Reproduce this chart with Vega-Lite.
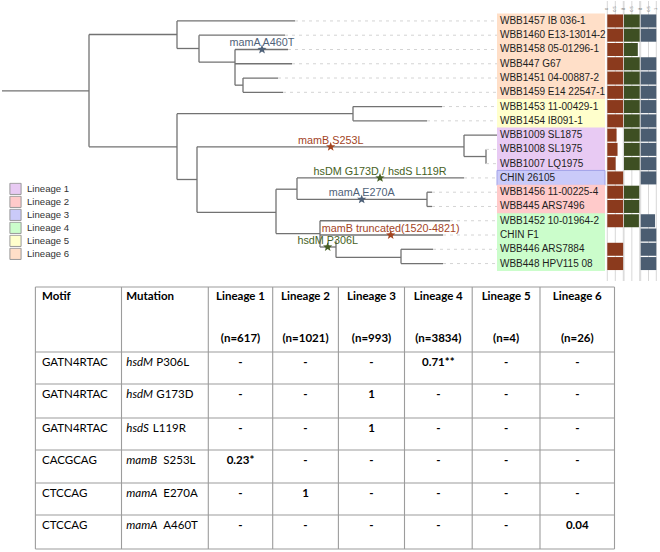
{
  "$schema": "https://vega.github.io/schema/vega-lite/v6.json",
  "padding": 0,
  "spacing": 0,
  "background": "white",
  "config": {"view": {"stroke": null}, "concat": {"spacing": 0}},
  "datasets": {
    "tips": [
      {"i": 1, "name": "WBB1457 IB 036-1", "lineage": "Lineage 6", "tipx": 295, "mamB": 1, "hsd": 1, "mamA": 1},
      {"i": 2, "name": "WBB1460 E13-13014-2", "lineage": "Lineage 6", "tipx": 285, "mamB": 1, "hsd": 1, "mamA": 1},
      {"i": 3, "name": "WBB1458 05-01296-1", "lineage": "Lineage 6", "tipx": 288, "mamB": 1, "hsd": 0.88, "mamA": 0},
      {"i": 4, "name": "WBB447 G67", "lineage": "Lineage 6", "tipx": 292, "mamB": 1, "hsd": 1, "mamA": 1},
      {"i": 5, "name": "WBB1451 04-00887-2", "lineage": "Lineage 6", "tipx": 278, "mamB": 1, "hsd": 1, "mamA": 1},
      {"i": 6, "name": "WBB1459 E14 22547-1", "lineage": "Lineage 6", "tipx": 283, "mamB": 1, "hsd": 1, "mamA": 1},
      {"i": 7, "name": "WBB1453 11-00429-1", "lineage": "Lineage 5", "tipx": 442, "mamB": 1, "hsd": 1, "mamA": 1},
      {"i": 8, "name": "WBB1454 IB091-1", "lineage": "Lineage 5", "tipx": 427, "mamB": 1, "hsd": 1, "mamA": 1},
      {"i": 9, "name": "WBB1009 SL1875", "lineage": "Lineage 1", "tipx": 497, "mamB": 0.58, "hsd": 1, "mamA": 1},
      {"i": 10, "name": "WBB1008 SL1975", "lineage": "Lineage 1", "tipx": 486, "mamB": 0.64, "hsd": 1, "mamA": 1},
      {"i": 11, "name": "WBB1007 LQ1975", "lineage": "Lineage 1", "tipx": 486, "mamB": 0.52, "hsd": 1, "mamA": 1},
      {"i": 12, "name": "CHIN 26105", "lineage": "Lineage 3", "tipx": 464, "mamB": 1, "hsd": 0, "mamA": 1},
      {"i": 13, "name": "WBB1456 11-00225-4", "lineage": "Lineage 2", "tipx": 432, "mamB": 1, "hsd": 0.97, "mamA": 0},
      {"i": 14, "name": "WBB445 ARS7496", "lineage": "Lineage 2", "tipx": 432, "mamB": 1, "hsd": 0.97, "mamA": 0},
      {"i": 15, "name": "WBB1452 10-01964-2", "lineage": "Lineage 4", "tipx": 450, "mamB": 1, "hsd": 0.95, "mamA": 0.92},
      {"i": 16, "name": "CHIN F1", "lineage": "Lineage 4", "tipx": 443, "mamB": 0, "hsd": 0, "mamA": 1},
      {"i": 17, "name": "WBB446 ARS7884", "lineage": "Lineage 4", "tipx": 433, "mamB": 1, "hsd": 0, "mamA": 1},
      {"i": 18, "name": "WBB448 HPV115 08", "lineage": "Lineage 4", "tipx": 443, "mamB": 1, "hsd": 0, "mamA": 1}
    ],
    "edges": [
      {"x1": 2, "x2": 89, "y1": 5.9, "y2": 5.9},
      {"x1": 89, "x2": 89, "y1": 1.95, "y2": 9.82},
      {"x1": 89, "x2": 177, "y1": 1.95, "y2": 1.95},
      {"x1": 177, "x2": 177, "y1": 1, "y2": 2.93},
      {"x1": 177, "x2": 295, "y1": 1, "y2": 1},
      {"x1": 177, "x2": 199, "y1": 2.93, "y2": 2.93},
      {"x1": 199, "x2": 199, "y1": 2, "y2": 3.89},
      {"x1": 199, "x2": 285, "y1": 2, "y2": 2},
      {"x1": 199, "x2": 235, "y1": 3.89, "y2": 3.89},
      {"x1": 235, "x2": 235, "y1": 3, "y2": 5.5},
      {"x1": 235, "x2": 288, "y1": 3, "y2": 3},
      {"x1": 235, "x2": 292, "y1": 4, "y2": 4},
      {"x1": 235, "x2": 243, "y1": 5.5, "y2": 5.5},
      {"x1": 243, "x2": 243, "y1": 5, "y2": 6},
      {"x1": 243, "x2": 278, "y1": 5, "y2": 5},
      {"x1": 243, "x2": 283, "y1": 6, "y2": 6},
      {"x1": 89, "x2": 177, "y1": 9.82, "y2": 9.82},
      {"x1": 177, "x2": 177, "y1": 7.5, "y2": 12.11},
      {"x1": 177, "x2": 353, "y1": 7.5, "y2": 7.5},
      {"x1": 353, "x2": 353, "y1": 7, "y2": 8},
      {"x1": 353, "x2": 442, "y1": 7, "y2": 7},
      {"x1": 353, "x2": 427, "y1": 8, "y2": 8},
      {"x1": 177, "x2": 197, "y1": 12.11, "y2": 12.11},
      {"x1": 197, "x2": 197, "y1": 9.82, "y2": 14.41},
      {"x1": 197, "x2": 464, "y1": 9.82, "y2": 9.82},
      {"x1": 464, "x2": 464, "y1": 9, "y2": 10.5},
      {"x1": 464, "x2": 497, "y1": 9, "y2": 9},
      {"x1": 464, "x2": 486, "y1": 10.5, "y2": 10.5},
      {"x1": 486, "x2": 486, "y1": 10, "y2": 11},
      {"x1": 197, "x2": 276, "y1": 14.41, "y2": 14.41},
      {"x1": 276, "x2": 276, "y1": 12.79, "y2": 15.9},
      {"x1": 276, "x2": 297, "y1": 12.79, "y2": 12.79},
      {"x1": 297, "x2": 297, "y1": 12, "y2": 13.5},
      {"x1": 297, "x2": 464, "y1": 12, "y2": 12},
      {"x1": 297, "x2": 427, "y1": 13.5, "y2": 13.5},
      {"x1": 427, "x2": 427, "y1": 13, "y2": 14},
      {"x1": 427, "x2": 432, "y1": 13, "y2": 13},
      {"x1": 427, "x2": 432, "y1": 14, "y2": 14},
      {"x1": 276, "x2": 320, "y1": 15.9, "y2": 15.9},
      {"x1": 320, "x2": 320, "y1": 15, "y2": 16.84},
      {"x1": 320, "x2": 450, "y1": 15, "y2": 15},
      {"x1": 320, "x2": 443, "y1": 16, "y2": 16},
      {"x1": 320, "x2": 336, "y1": 16.84, "y2": 16.84},
      {"x1": 336, "x2": 336, "y1": 16.36, "y2": 17.57},
      {"x1": 336, "x2": 401, "y1": 17.57, "y2": 17.57},
      {"x1": 401, "x2": 401, "y1": 17, "y2": 18},
      {"x1": 401, "x2": 433, "y1": 17, "y2": 17},
      {"x1": 401, "x2": 443, "y1": 18, "y2": 18}
    ],
    "muts": [
      {"label": "mamA A460T", "gene": "mamA", "x": 262, "y": 3},
      {"label": "mamB S253L", "gene": "mamB", "x": 330.7, "y": 9.82},
      {"label": "hsDM G173D / hsdS L119R", "gene": "hsd", "x": 380, "y": 12},
      {"label": "mamA E270A", "gene": "mamA", "x": 361.7, "y": 13.5},
      {"label": "mamB truncated(1520-4821)", "gene": "mamB", "x": 390.7, "y": 16},
      {"label": "hsdM P306L", "gene": "hsd", "x": 327.7, "y": 16.84}
    ],
    "ticks": [{"v": 0, "t": "0"}, {"v": 0.5, "t": "0.5"}, {"v": 1, "t": "1"}],
    "rows": [
      {"r": 1, "motif": "GATN4RTAC", "gene": "hsdM", "change": "P306L"},
      {"r": 2, "motif": "GATN4RTAC", "gene": "hsdM", "change": "G173D"},
      {"r": 3, "motif": "GATN4RTAC", "gene": "hsdS", "change": "L119R"},
      {"r": 4, "motif": "CACGCAG", "gene": "mamB", "change": "S253L"},
      {"r": 5, "motif": "CTCCAG", "gene": "mamA", "change": "E270A"},
      {"r": 6, "motif": "CTCCAG", "gene": "mamA", "change": "A460T"}
    ],
    "hdr": [
      {"col": 1, "t1": "Lineage 1", "t2": "(n=617)"},
      {"col": 2, "t1": "Lineage 2", "t2": "(n=1021)"},
      {"col": 3, "t1": "Lineage 3", "t2": "(n=993)"},
      {"col": 4, "t1": "Lineage 4", "t2": "(n=3834)"},
      {"col": 5, "t1": "Lineage 5", "t2": "(n=4)"},
      {"col": 6, "t1": "Lineage 6", "t2": "(n=26)"}
    ],
    "cells": [
      {"r": 1, "col": 1, "v": "-"}, {"r": 1, "col": 2, "v": "-"}, {"r": 1, "col": 3, "v": "-"}, {"r": 1, "col": 4, "v": "0.71**"}, {"r": 1, "col": 5, "v": "-"}, {"r": 1, "col": 6, "v": "-"},
      {"r": 2, "col": 1, "v": "-"}, {"r": 2, "col": 2, "v": "-"}, {"r": 2, "col": 3, "v": "1"}, {"r": 2, "col": 4, "v": "-"}, {"r": 2, "col": 5, "v": "-"}, {"r": 2, "col": 6, "v": "-"},
      {"r": 3, "col": 1, "v": "-"}, {"r": 3, "col": 2, "v": "-"}, {"r": 3, "col": 3, "v": "1"}, {"r": 3, "col": 4, "v": "-"}, {"r": 3, "col": 5, "v": "-"}, {"r": 3, "col": 6, "v": "-"},
      {"r": 4, "col": 1, "v": "0.23*"}, {"r": 4, "col": 2, "v": "-"}, {"r": 4, "col": 3, "v": "-"}, {"r": 4, "col": 4, "v": "-"}, {"r": 4, "col": 5, "v": "-"}, {"r": 4, "col": 6, "v": "-"},
      {"r": 5, "col": 1, "v": "-"}, {"r": 5, "col": 2, "v": "1"}, {"r": 5, "col": 3, "v": "-"}, {"r": 5, "col": 4, "v": "-"}, {"r": 5, "col": 5, "v": "-"}, {"r": 5, "col": 6, "v": "-"},
      {"r": 6, "col": 1, "v": "-"}, {"r": 6, "col": 2, "v": "-"}, {"r": 6, "col": 3, "v": "-"}, {"r": 6, "col": 4, "v": "-"}, {"r": 6, "col": 5, "v": "-"}, {"r": 6, "col": 6, "v": "0.04"}
    ],
    "vlines": [{"e": 0}, {"e": 1}, {"e": 2}, {"e": 3}, {"e": 4}, {"e": 5}, {"e": 6}, {"e": 7}, {"e": 8}],
    "hlines": [{"h": 0}, {"h": 1}, {"h": 2}, {"h": 3}, {"h": 4}, {"h": 5}, {"h": 6}, {"h": 7}]
  },
  "vconcat": [
    {
      "width": 660,
      "height": 280,
      "layer": [
        {
          "layer": [
            {
              "data": {"name": "edges"},
              "mark": {"type": "rule", "color": "#727272", "strokeWidth": 1.3},
              "encoding": {
                "x": {"field": "x1", "type": "quantitative", "scale": {"domain": [0, 660], "nice": false, "zero": false}, "axis": null},
                "x2": {"field": "x2"},
                "y": {"field": "y1", "type": "quantitative", "scale": {"domain": [-0.047, 18.872], "reverse": true, "nice": false, "zero": false}, "axis": null},
                "y2": {"field": "y2"}
              }
            },
            {
              "data": {"name": "tips"},
              "mark": {"type": "rule", "color": "#d4d4d4", "strokeWidth": 1, "strokeDash": [3, 4]},
              "encoding": {
                "x": {"field": "tipx", "type": "quantitative", "scale": {"domain": [0, 660], "nice": false, "zero": false}, "axis": null},
                "x2": {"datum": 497},
                "y": {"field": "i", "type": "quantitative", "scale": {"domain": [-0.047, 18.872], "reverse": true, "nice": false, "zero": false}, "axis": null}
              }
            },
            {
              "data": {"name": "tips"},
              "mark": {"type": "bar", "orient": "horizontal", "height": 15, "strokeWidth": 1},
              "encoding": {
                "x": {"datum": 497, "type": "quantitative", "scale": {"domain": [0, 660], "nice": false, "zero": false}, "axis": null},
                "x2": {"datum": 605},
                "y": {"field": "i", "type": "quantitative", "scale": {"domain": [-0.047, 18.872], "reverse": true, "nice": false, "zero": false}, "axis": null},
                "fill": {
                  "field": "lineage", "type": "nominal",
                  "scale": {"domain": ["Lineage 1", "Lineage 2", "Lineage 3", "Lineage 4", "Lineage 5", "Lineage 6"], "range": ["#e8caf3", "#ffcaca", "#cacaf9", "#cbfdcb", "#ffffcc", "#ffdfc8"]},
                  "legend": {
                    "orient": "none", "legendX": 9, "legendY": 181.5, "direction": "vertical", "title": null,
                    "symbolType": "square", "symbolSize": 125, "symbolStrokeColor": "#9a9a9a", "symbolStrokeWidth": 1,
                    "labelFont": "Liberation Sans", "labelFontSize": 9.6, "labelColor": "#333333", "labelOffset": 5,
                    "clipHeight": 12.7, "rowPadding": 0, "padding": 0
                  }
                },
                "stroke": {"condition": {"test": "datum.lineage === 'Lineage 3'", "value": "#a3a3e8"}, "value": "transparent"}
              }
            },
            {
              "data": {"name": "tips"},
              "mark": {"type": "text", "align": "left", "baseline": "middle", "font": "Liberation Sans", "fontSize": 10, "color": "#1e1e1e"},
              "encoding": {
                "x": {"datum": 500, "type": "quantitative", "scale": {"domain": [0, 660], "nice": false, "zero": false}, "axis": null},
                "y": {"field": "i", "type": "quantitative", "scale": {"domain": [-0.047, 18.872], "reverse": true, "nice": false, "zero": false}, "axis": null},
                "text": {"field": "name"}
              }
            },
            {
              "data": {"name": "muts"},
              "mark": {"type": "text", "align": "center", "baseline": "middle", "dy": -6, "font": "Liberation Sans", "fontSize": 10.8},
              "encoding": {
                "x": {"field": "x", "type": "quantitative", "scale": {"domain": [0, 660], "nice": false, "zero": false}, "axis": null},
                "y": {"field": "y", "type": "quantitative", "scale": {"domain": [-0.047, 18.872], "reverse": true, "nice": false, "zero": false}, "axis": null},
                "text": {"field": "label"},
                "color": {"field": "gene", "type": "nominal", "scale": {"domain": ["mamA", "mamB", "hsd"], "range": ["#4f6279", "#a3441f", "#465f24"]}, "legend": null}
              }
            },
            {
              "data": {"name": "muts"},
              "mark": {"type": "point", "filled": true, "opacity": 1, "size": 95, "shape": "M0,-1L0.247,-0.34L0.951,-0.309L0.399,0.13L0.588,0.809L0,0.42L-0.588,0.809L-0.399,0.13L-0.951,-0.309L-0.247,-0.34Z"},
              "encoding": {
                "x": {"field": "x", "type": "quantitative", "scale": {"domain": [0, 660], "nice": false, "zero": false}, "axis": null},
                "y": {"field": "y", "type": "quantitative", "scale": {"domain": [-0.047, 18.872], "reverse": true, "nice": false, "zero": false}, "axis": null},
                "color": {"field": "gene", "type": "nominal", "scale": {"domain": ["mamA", "mamB", "hsd"], "range": ["#4f6279", "#a3441f", "#465f24"]}, "legend": null}
              }
            }
          ]
        },
        {
          "layer": [
            {
              "data": {"name": "ticks"},
              "mark": {"type": "rule", "color": "#d8d8d8", "strokeWidth": 1},
              "encoding": {"x": {"field": "v", "type": "quantitative", "scale": {"domain": [0, 1], "range": [607.3, 623.3], "nice": false, "zero": false}, "axis": null}}
            },
            {
              "data": {"name": "ticks"},
              "mark": {"type": "text", "angle": 270, "fontSize": 4, "color": "#666666", "align": "center", "baseline": "middle", "font": "Liberation Sans"},
              "encoding": {
                "x": {"field": "v", "type": "quantitative", "scale": {"domain": [0, 1], "range": [607.3, 623.3], "nice": false, "zero": false}, "axis": null},
                "y": {"datum": 0.16, "type": "quantitative", "scale": {"domain": [-0.047, 18.872], "reverse": true, "nice": false, "zero": false}, "axis": null},
                "text": {"field": "t"}
              }
            },
            {
              "data": {"name": "tips"},
              "mark": {"type": "bar", "orient": "horizontal", "size": 13, "color": "#8b3a1d"},
              "encoding": {
                "x": {"field": "mamB", "type": "quantitative", "scale": {"domain": [0, 1], "range": [607.3, 623.3], "nice": false, "zero": false}, "axis": null},
                "x2": {"datum": 0},
                "y": {"field": "i", "type": "quantitative", "scale": {"domain": [-0.047, 18.872], "reverse": true, "nice": false, "zero": false}, "axis": null}
              }
            }
          ]
        },
        {
          "layer": [
            {
              "data": {"name": "ticks"},
              "mark": {"type": "rule", "color": "#d8d8d8", "strokeWidth": 1},
              "encoding": {"x": {"field": "v", "type": "quantitative", "scale": {"domain": [0, 1], "range": [624, 639.7], "nice": false, "zero": false}, "axis": null}}
            },
            {
              "data": {"name": "ticks"},
              "mark": {"type": "text", "angle": 270, "fontSize": 4, "color": "#666666", "align": "center", "baseline": "middle", "font": "Liberation Sans"},
              "encoding": {
                "x": {"field": "v", "type": "quantitative", "scale": {"domain": [0, 1], "range": [624, 639.7], "nice": false, "zero": false}, "axis": null},
                "y": {"datum": 0.16, "type": "quantitative", "scale": {"domain": [-0.047, 18.872], "reverse": true, "nice": false, "zero": false}, "axis": null},
                "text": {"field": "t"}
              }
            },
            {
              "data": {"name": "tips"},
              "mark": {"type": "bar", "orient": "horizontal", "size": 13, "color": "#3e4f23"},
              "encoding": {
                "x": {"field": "hsd", "type": "quantitative", "scale": {"domain": [0, 1], "range": [624, 639.7], "nice": false, "zero": false}, "axis": null},
                "x2": {"datum": 0},
                "y": {"field": "i", "type": "quantitative", "scale": {"domain": [-0.047, 18.872], "reverse": true, "nice": false, "zero": false}, "axis": null}
              }
            }
          ]
        },
        {
          "layer": [
            {
              "data": {"name": "ticks"},
              "mark": {"type": "rule", "color": "#d8d8d8", "strokeWidth": 1},
              "encoding": {"x": {"field": "v", "type": "quantitative", "scale": {"domain": [0, 1], "range": [640.7, 656.3], "nice": false, "zero": false}, "axis": null}}
            },
            {
              "data": {"name": "ticks"},
              "mark": {"type": "text", "angle": 270, "fontSize": 4, "color": "#666666", "align": "center", "baseline": "middle", "font": "Liberation Sans"},
              "encoding": {
                "x": {"field": "v", "type": "quantitative", "scale": {"domain": [0, 1], "range": [640.7, 656.3], "nice": false, "zero": false}, "axis": null},
                "y": {"datum": 0.16, "type": "quantitative", "scale": {"domain": [-0.047, 18.872], "reverse": true, "nice": false, "zero": false}, "axis": null},
                "text": {"field": "t"}
              }
            },
            {
              "data": {"name": "tips"},
              "mark": {"type": "bar", "orient": "horizontal", "size": 13, "color": "#4b5d71"},
              "encoding": {
                "x": {"field": "mamA", "type": "quantitative", "scale": {"domain": [0, 1], "range": [640.7, 656.3], "nice": false, "zero": false}, "axis": null},
                "x2": {"datum": 0},
                "y": {"field": "i", "type": "quantitative", "scale": {"domain": [-0.047, 18.872], "reverse": true, "nice": false, "zero": false}, "axis": null}
              }
            }
          ]
        }
      ],
      "resolve": {"scale": {"x": "independent"}}
    },
    {
      "width": 660,
      "height": 272,
      "layer": [
        {
          "layer": [
            {
              "data": {"name": "vlines"},
              "mark": {"type": "rule", "color": "#9c9c9c", "strokeWidth": 1.1},
              "encoding": {
                "x": {"field": "e", "type": "quantitative", "scale": {"domain": [0, 1, 2, 3, 4, 5, 6, 7, 8], "range": [35.4, 121.5, 208.3, 272.7, 338.4, 404.5, 472.2, 540, 614.5], "nice": false, "zero": false}, "axis": null},
                "y": {"datum": 0, "type": "quantitative", "scale": {"domain": [0, 1, 2, 3, 4, 5, 6, 7], "range": [5, 70, 102, 136, 168, 201, 233, 267], "nice": false, "zero": false}, "axis": null},
                "y2": {"datum": 7}
              }
            },
            {
              "data": {"name": "hlines"},
              "mark": {"type": "rule", "color": "#9c9c9c", "strokeWidth": 1.1},
              "encoding": {
                "x": {"datum": 0, "type": "quantitative", "scale": {"domain": [0, 1, 2, 3, 4, 5, 6, 7, 8], "range": [35.4, 121.5, 208.3, 272.7, 338.4, 404.5, 472.2, 540, 614.5], "nice": false, "zero": false}, "axis": null},
                "x2": {"datum": 8},
                "y": {"field": "h", "type": "quantitative", "scale": {"domain": [0, 1, 2, 3, 4, 5, 6, 7], "range": [5, 70, 102, 136, 168, 201, 233, 267], "nice": false, "zero": false}, "axis": null}
              }
            }
          ]
        },
        {
          "layer": [
            {
              "data": {"values": [{"col": -1, "t": "Motif"}, {"col": 0, "t": "Mutation"}]},
              "mark": {"type": "text", "align": "left", "baseline": "middle", "dy": 10, "font": "Lato", "fontSize": 11.5, "fontWeight": "bold", "color": "#000000"},
              "encoding": {
                "x": {"field": "col", "type": "quantitative", "scale": {"domain": [-1, 0, 1, 2, 3, 4, 5, 6], "range": [42, 126.3, 240.5, 305.5, 371.5, 438.3, 506.1, 577.3], "nice": false, "zero": false}, "axis": null},
                "y": {"datum": 0, "type": "quantitative", "scale": {"domain": [0, 1, 2, 3, 4, 5, 6, 7], "range": [5, 70, 102, 136, 168, 201, 233, 267], "nice": false, "zero": false}, "axis": null},
                "text": {"field": "t"}
              }
            },
            {
              "data": {"name": "hdr"},
              "mark": {"type": "text", "align": "center", "baseline": "middle", "dy": 10, "font": "Lato", "fontSize": 11.5, "fontWeight": "bold", "color": "#000000"},
              "encoding": {
                "x": {"field": "col", "type": "quantitative", "scale": {"domain": [-1, 0, 1, 2, 3, 4, 5, 6], "range": [42, 126.3, 240.5, 305.5, 371.5, 438.3, 506.1, 577.3], "nice": false, "zero": false}, "axis": null},
                "y": {"datum": 0, "type": "quantitative", "scale": {"domain": [0, 1, 2, 3, 4, 5, 6, 7], "range": [5, 70, 102, 136, 168, 201, 233, 267], "nice": false, "zero": false}, "axis": null},
                "text": {"field": "t1"}
              }
            },
            {
              "data": {"name": "hdr"},
              "mark": {"type": "text", "align": "center", "baseline": "middle", "dy": 51.7, "font": "Lato", "fontSize": 11.5, "fontWeight": "bold", "color": "#000000"},
              "encoding": {
                "x": {"field": "col", "type": "quantitative", "scale": {"domain": [-1, 0, 1, 2, 3, 4, 5, 6], "range": [42, 126.3, 240.5, 305.5, 371.5, 438.3, 506.1, 577.3], "nice": false, "zero": false}, "axis": null},
                "y": {"datum": 0, "type": "quantitative", "scale": {"domain": [0, 1, 2, 3, 4, 5, 6, 7], "range": [5, 70, 102, 136, 168, 201, 233, 267], "nice": false, "zero": false}, "axis": null},
                "text": {"field": "t2"}
              }
            },
            {
              "data": {"name": "rows"},
              "mark": {"type": "text", "align": "left", "baseline": "middle", "dy": 10.5, "font": "Lato", "fontSize": 11.5, "color": "#000000"},
              "encoding": {
                "x": {"datum": -1, "type": "quantitative", "scale": {"domain": [-1, 0, 1, 2, 3, 4, 5, 6], "range": [42, 126.3, 240.5, 305.5, 371.5, 438.3, 506.1, 577.3], "nice": false, "zero": false}, "axis": null},
                "y": {"field": "r", "type": "quantitative", "scale": {"domain": [0, 1, 2, 3, 4, 5, 6, 7], "range": [5, 70, 102, 136, 168, 201, 233, 267], "nice": false, "zero": false}, "axis": null},
                "text": {"field": "motif"}
              }
            },
            {
              "data": {"name": "rows"},
              "mark": {"type": "text", "align": "left", "baseline": "middle", "dy": 10.5, "font": "Lato", "fontSize": 11.5, "fontStyle": "italic", "color": "#000000"},
              "encoding": {
                "x": {"datum": 0, "type": "quantitative", "scale": {"domain": [-1, 0, 1, 2, 3, 4, 5, 6], "range": [42, 126.3, 240.5, 305.5, 371.5, 438.3, 506.1, 577.3], "nice": false, "zero": false}, "axis": null},
                "y": {"field": "r", "type": "quantitative", "scale": {"domain": [0, 1, 2, 3, 4, 5, 6, 7], "range": [5, 70, 102, 136, 168, 201, 233, 267], "nice": false, "zero": false}, "axis": null},
                "text": {"field": "gene"}
              }
            },
            {
              "data": {"name": "rows"},
              "transform": [{"filter": "datum.gene === 'hsdM'"}],
              "mark": {"type": "text", "align": "left", "baseline": "middle", "dy": 10.5, "dx": 30, "font": "Lato", "fontSize": 11.5, "color": "#000000"},
              "encoding": {
                "x": {"datum": 0, "type": "quantitative", "scale": {"domain": [-1, 0, 1, 2, 3, 4, 5, 6], "range": [42, 126.3, 240.5, 305.5, 371.5, 438.3, 506.1, 577.3], "nice": false, "zero": false}, "axis": null},
                "y": {"field": "r", "type": "quantitative", "scale": {"domain": [0, 1, 2, 3, 4, 5, 6, 7], "range": [5, 70, 102, 136, 168, 201, 233, 267], "nice": false, "zero": false}, "axis": null},
                "text": {"field": "change"}
              }
            },
            {
              "data": {"name": "rows"},
              "transform": [{"filter": "datum.gene === 'hsdS'"}],
              "mark": {"type": "text", "align": "left", "baseline": "middle", "dy": 10.5, "dx": 26.5, "font": "Lato", "fontSize": 11.5, "color": "#000000"},
              "encoding": {
                "x": {"datum": 0, "type": "quantitative", "scale": {"domain": [-1, 0, 1, 2, 3, 4, 5, 6], "range": [42, 126.3, 240.5, 305.5, 371.5, 438.3, 506.1, 577.3], "nice": false, "zero": false}, "axis": null},
                "y": {"field": "r", "type": "quantitative", "scale": {"domain": [0, 1, 2, 3, 4, 5, 6, 7], "range": [5, 70, 102, 136, 168, 201, 233, 267], "nice": false, "zero": false}, "axis": null},
                "text": {"field": "change"}
              }
            },
            {
              "data": {"name": "rows"},
              "transform": [{"filter": "datum.gene === 'mamA' || datum.gene === 'mamB'"}],
              "mark": {"type": "text", "align": "left", "baseline": "middle", "dy": 10.5, "dx": 37, "font": "Lato", "fontSize": 11.5, "color": "#000000"},
              "encoding": {
                "x": {"datum": 0, "type": "quantitative", "scale": {"domain": [-1, 0, 1, 2, 3, 4, 5, 6], "range": [42, 126.3, 240.5, 305.5, 371.5, 438.3, 506.1, 577.3], "nice": false, "zero": false}, "axis": null},
                "y": {"field": "r", "type": "quantitative", "scale": {"domain": [0, 1, 2, 3, 4, 5, 6, 7], "range": [5, 70, 102, 136, 168, 201, 233, 267], "nice": false, "zero": false}, "axis": null},
                "text": {"field": "change"}
              }
            },
            {
              "data": {"name": "cells"},
              "mark": {"type": "text", "align": "center", "baseline": "middle", "dy": 10.5, "font": "Lato", "fontSize": 11.5, "fontWeight": "bold", "color": "#000000"},
              "encoding": {
                "x": {"field": "col", "type": "quantitative", "scale": {"domain": [-1, 0, 1, 2, 3, 4, 5, 6], "range": [42, 126.3, 240.5, 305.5, 371.5, 438.3, 506.1, 577.3], "nice": false, "zero": false}, "axis": null},
                "y": {"field": "r", "type": "quantitative", "scale": {"domain": [0, 1, 2, 3, 4, 5, 6, 7], "range": [5, 70, 102, 136, 168, 201, 233, 267], "nice": false, "zero": false}, "axis": null},
                "text": {"field": "v"}
              }
            }
          ]
        }
      ],
      "resolve": {"scale": {"x": "independent"}}
    }
  ],
  "resolve": {"scale": {"x": "independent", "y": "independent", "fill": "independent", "color": "independent"}}
}
